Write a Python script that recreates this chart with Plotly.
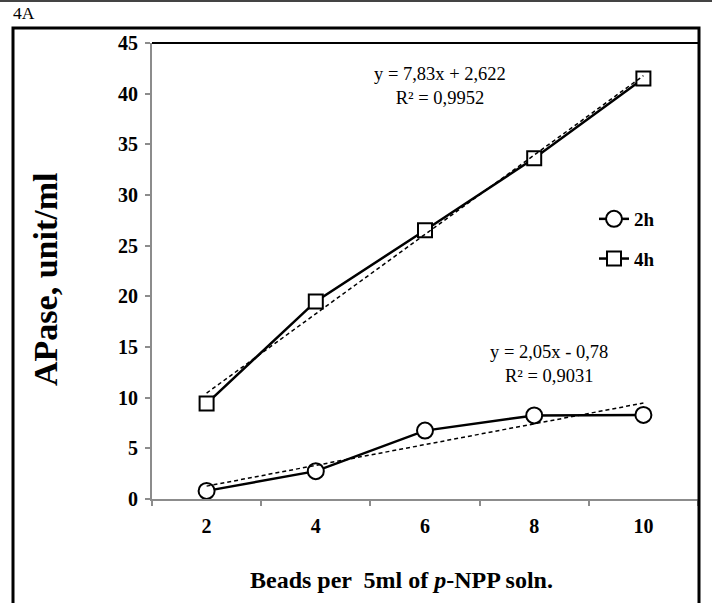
import plotly.graph_objects as go

# ---- data ----
beads = [2, 4, 6, 8, 10]
apase_2h = [0.8, 2.75, 6.75, 8.25, 8.3]
apase_4h = [9.42, 19.5, 26.52, 33.62, 41.5]
# trendline coefficients as printed on the chart (x = point index 1..5)
fit_2h = (2.05, -0.78)
fit_4h = (7.83, 2.622)
eq_2h = "y = 2,05x - 0,78<br>R² = 0,9031"
eq_4h = "y = 7,83x + 2,622<br>R² = 0,9952"
y_ticks = [0, 5, 10, 15, 20, 25, 30, 35, 40, 45]

W, H = 712, 603
L, R, T, B = 152, 698, 43, 499


def px(x):
    return (x - L) / (R - L)


def py(y):
    return (B - y) / (B - T)


FONT = "Liberation Serif"

idx = list(range(1, len(beads) + 1))


def trend(fit):
    m, b = fit
    return [m * i + b for i in (idx[0], idx[-1])]


fig = go.Figure()
fig.add_trace(go.Scatter(
    x=beads, y=apase_2h, name="2h", mode="lines+markers",
    line=dict(color="black", width=2.5),
    marker=dict(symbol="circle", size=16, color="white", line=dict(color="black", width=2)),
    legendgroup="a"))
fig.add_trace(go.Scatter(
    x=beads, y=apase_4h, name="4h", mode="lines+markers",
    line=dict(color="black", width=2.5),
    marker=dict(symbol="square", size=14, color="white", line=dict(color="black", width=2)),
    legendgroup="b"))
fig.add_trace(go.Scatter(
    x=[beads[0], beads[-1]], y=trend(fit_2h), mode="lines", showlegend=False,
    line=dict(color="black", width=1.5, dash="4px,3px"), hoverinfo="skip"))
fig.add_trace(go.Scatter(
    x=[beads[0], beads[-1]], y=trend(fit_4h), mode="lines", showlegend=False,
    line=dict(color="black", width=1.5, dash="4px,3px"), hoverinfo="skip"))

gray = "#8c8c8c"
fig.update_xaxes(
    range=[1, 11], tickvals=beads, ticktext=[str(b) for b in beads],
    ticks="outside", ticklen=8, tickcolor="rgba(0,0,0,0)",
    minor=dict(tickvals=[1, 3, 5, 7, 9, 11], ticks="outside", ticklen=5, tickcolor=gray, tickwidth=1.5),
    showline=True, linecolor=gray, linewidth=2, showgrid=False, zeroline=False,
    tickfont=dict(family=FONT, size=20, color="black", weight="bold"))
fig.update_yaxes(
    range=[0, 45], tickvals=y_ticks, ticks="outside", ticklen=5, tickcolor=gray, tickwidth=1.5,
    showline=True, linecolor=gray, linewidth=2, showgrid=False, zeroline=False,
    ticklabelstandoff=3,
    tickfont=dict(family=FONT, size=20, color="black", weight="bold"))

shapes = [
    # top rule across the page
    dict(type="line", xref="paper", yref="paper", x0=px(-5), x1=px(720), y0=py(1), y1=py(1),
         line=dict(color="#444444", width=2)),
    # outer frame
    dict(type="rect", xref="paper", yref="paper", x0=px(13), x1=px(699), y0=py(640), y1=py(28),
         line=dict(color="black", width=3)),
    # plot area top border
    dict(type="line", xref="paper", yref="paper", x0=0, x1=1, y0=1, y1=1,
         line=dict(color="black", width=2)),
]

annotations = [
    dict(text="4A", xref="paper", yref="paper", x=px(11), y=py(13), xanchor="left", yanchor="middle",
         showarrow=False, font=dict(family=FONT, size=17.5, color="black")),
    dict(text=eq_4h, xref="paper", yref="paper", x=px(440), y=py(86), xanchor="center", yanchor="middle",
         showarrow=False, font=dict(family=FONT, size=18.5, color="black")),
    dict(text=eq_2h, xref="paper", yref="paper", x=px(549), y=py(364), xanchor="center", yanchor="middle",
         showarrow=False, font=dict(family=FONT, size=18.5, color="black")),
    dict(text="APase, unit/ml", xref="paper", yref="paper", x=px(45), y=py(280), textangle=-90,
         xanchor="center", yanchor="middle", showarrow=False,
         font=dict(family=FONT, size=34, color="black", weight="bold")),
    dict(text="Beads per  5ml of <i>p</i>-NPP soln.", xref="paper", yref="paper", x=px(401), y=py(580),
         xanchor="center", yanchor="middle", showarrow=False,
         font=dict(family=FONT, size=24, color="black", weight="bold")),
]

fig.update_layout(
    width=W, height=H,
    margin=dict(l=L, r=W - R, t=T, b=H - B),
    paper_bgcolor="white", plot_bgcolor="white",
    showlegend=True,
    legend=dict(x=px(594), y=py(200), xanchor="left", yanchor="top", bgcolor="rgba(0,0,0,0)",
                traceorder="grouped", tracegroupgap=12,
                font=dict(family=FONT, size=19, color="black", weight="bold")),
    shapes=shapes, annotations=annotations,
)

fig.write_html("out.html", config={"displayModeBar": False},
               post_script="document.body.style.margin='0';")
